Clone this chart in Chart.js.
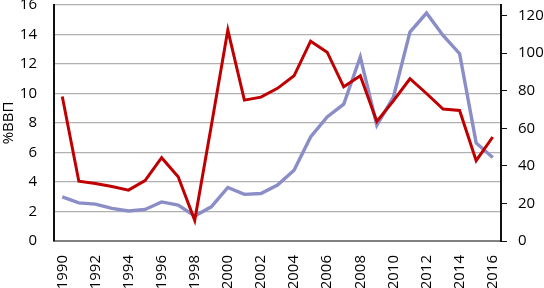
<!DOCTYPE html>
<html>
<head>
<meta charset="utf-8">
<script src="https://cdn.jsdelivr.net/npm/chart.js@4"></script>
<style>
  html, body { margin: 0; padding: 0; background: #fff; }
  #wrap { width: 544px; height: 288px; }
</style>
</head>
<body>
<div id="wrap"><canvas id="grafico"></canvas></div>
<script>
// años del eje x
const anios = ['1990', '1991', '1992', '1993', '1994', '1995', '1996', '1997', '1998', '1999',
  '2000', '2001', '2002', '2003', '2004', '2005', '2006', '2007', '2008', '2009',
  '2010', '2011', '2012', '2013', '2014', '2015', '2016']

// serie roja, eje izquierdo (%ВВП)
const serieRoja = [9.8, 4.05, 3.9, 3.7, 3.45, 4.1, 5.65, 4.35, 1.4, 7.8,
  14.3, 9.55, 9.75, 10.35, 11.2, 13.55, 12.8, 10.45, 11.2, 8.1,
  9.5, 11.0, 10.0, 8.95, 8.85, 5.45, 7.05]

// serie azul, eje derecho
const serieAzul = [23.5, 20.3, 19.6, 17.4, 16.0, 16.8, 20.8, 19.1, 13.3, 18.2,
  28.5, 24.8, 25.3, 29.8, 37.7, 55.4, 66.0, 72.8, 97.9, 61.6,
  76.6, 111.2, 121.3, 109.4, 99.7, 52.2, 44.4]

const tituloY = '%ВВП'

const fuente = { family: 'Open Sans', size: 15 }

// quita el relleno automatico que Chart.js deja para las etiquetas extremas
const sinRelleno = (scale) => {
  scale.paddingTop = 0
  scale.paddingBottom = 0
  scale.paddingLeft = 0
  scale.paddingRight = 0
}

const ctx = document.getElementById('grafico')

const config = {
  type: 'line',
  data: {
    labels: anios,
    datasets: [
      {
        data: serieRoja,
        borderColor: '#c00000',
        borderWidth: 3,
        pointRadius: 0,
        tension: 0,
        yAxisID: 'y1'
      },
      {
        data: serieAzul,
        borderColor: '#8a8dc6',
        borderWidth: 3.4,
        pointRadius: 0,
        tension: 0,
        yAxisID: 'y2'
      }
    ]
  },
  options: {
    responsive: true,
    maintainAspectRatio: false,
    animation: false,
    layout: { padding: { top: 5, left: 0, right: 0, bottom: 0 } },
    plugins: {
      legend: { display: false },
      tooltip: { enabled: false }
    },
    scales: {
      x: {
        type: 'category',
        offset: true,
        grid: { display: false },
        border: { color: '#808080', width: 2 },
        ticks: {
          autoSkip: false,
          maxRotation: 90,
          minRotation: 90,
          padding: 6,
          color: '#000',
          font: fuente,
          callback: function (val, i) {
            return i % 2 === 0 ? this.getLabelForValue(val) : ''
          }
        },
        afterFit: (scale) => { scale.height = 47; sinRelleno(scale) }
      },
      y1: {
        type: 'linear',
        position: 'left',
        min: 0,
        max: 16,
        ticks: { stepSize: 2, color: '#000', font: fuente, padding: 17 },
        grid: { color: '#b0b0b0', lineWidth: 1.3, drawTicks: false },
        border: { color: '#111', width: 2 },
        title: { display: true, text: tituloY, color: '#000', font: fuente, padding: 0 },
        afterFit: (scale) => { scale.width = 54; sinRelleno(scale) }
      },
      y2: {
        type: 'linear',
        position: 'right',
        min: 0,
        max: 125.6,
        ticks: { stepSize: 20, includeBounds: false, color: '#000', font: fuente, padding: 11 },
        grid: { drawOnChartArea: false, drawTicks: true, tickLength: 6, color: '#111' },
        border: { color: '#111', width: 2 },
        afterFit: (scale) => { scale.width = 43; sinRelleno(scale) }
      }
    }
  }
}

new Chart(ctx, config)
</script>
</body>
</html>
